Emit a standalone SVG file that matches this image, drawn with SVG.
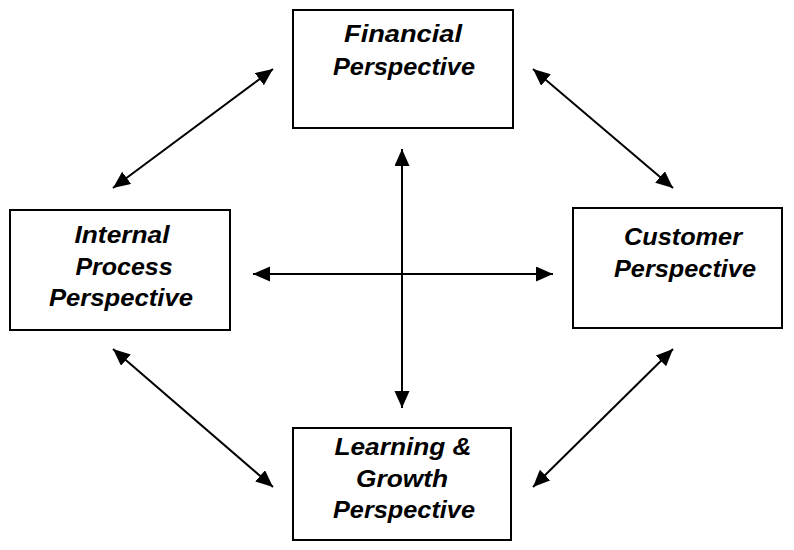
<svg xmlns="http://www.w3.org/2000/svg" width="794" height="550" viewBox="0 0 794 550">
<style>
.box{fill:#fff;stroke:#000;stroke-width:2}
.t{font-family:"Liberation Sans",Arial,sans-serif;font-weight:bold;font-style:italic;font-size:23px;fill:#000;text-anchor:middle}
.c{stroke:#000;stroke-width:2;fill:none;marker-start:url(#ah);marker-end:url(#ah)}
</style>
<defs>
<marker id="ah" markerUnits="userSpaceOnUse" markerWidth="18" markerHeight="16" refX="17" refY="7.5" orient="auto-start-reverse">
<path d="M0,0 L17,7.5 L0,15 z" fill="#000"/>
</marker>
</defs>
<rect width="794" height="550" fill="#fff"/>
<g id="connectors">
<line class="c" x1="273" y1="69" x2="113" y2="188"/>
<line class="c" x1="533" y1="69" x2="673" y2="188"/>
<line class="c" x1="113" y1="349" x2="273" y2="487"/>
<line class="c" x1="673" y1="349" x2="533" y2="487"/>
<line class="c" x1="402" y1="149" x2="402" y2="408"/>
<line class="c" x1="253" y1="274" x2="553" y2="274"/>
</g>
<g id="financial">
<rect class="box" x="293" y="10" width="220" height="118"/>
<text class="t" x="403" y="42" textLength="118" lengthAdjust="spacingAndGlyphs">Financial</text>
<text class="t" x="404" y="75" textLength="142" lengthAdjust="spacingAndGlyphs">Perspective</text>
</g>
<g id="internal">
<rect class="box" x="10" y="210" width="220" height="120"/>
<text class="t" x="122" y="243" textLength="95" lengthAdjust="spacingAndGlyphs">Internal</text>
<text class="t" x="124" y="275" textLength="97" lengthAdjust="spacingAndGlyphs">Process</text>
<text class="t" x="121" y="306" textLength="144" lengthAdjust="spacingAndGlyphs">Perspective</text>
</g>
<g id="customer">
<rect class="box" x="573" y="208" width="209" height="120"/>
<text class="t" x="683" y="245" textLength="118" lengthAdjust="spacingAndGlyphs">Customer</text>
<text class="t" x="685" y="277" textLength="142" lengthAdjust="spacingAndGlyphs">Perspective</text>
</g>
<g id="learning">
<rect class="box" x="293" y="428" width="218" height="112"/>
<text class="t" x="403" y="455" textLength="137" lengthAdjust="spacingAndGlyphs">Learning &amp;</text>
<text class="t" x="402" y="487" textLength="92" lengthAdjust="spacingAndGlyphs">Growth</text>
<text class="t" x="404" y="518" textLength="142" lengthAdjust="spacingAndGlyphs">Perspective</text>
</g>
</svg>
